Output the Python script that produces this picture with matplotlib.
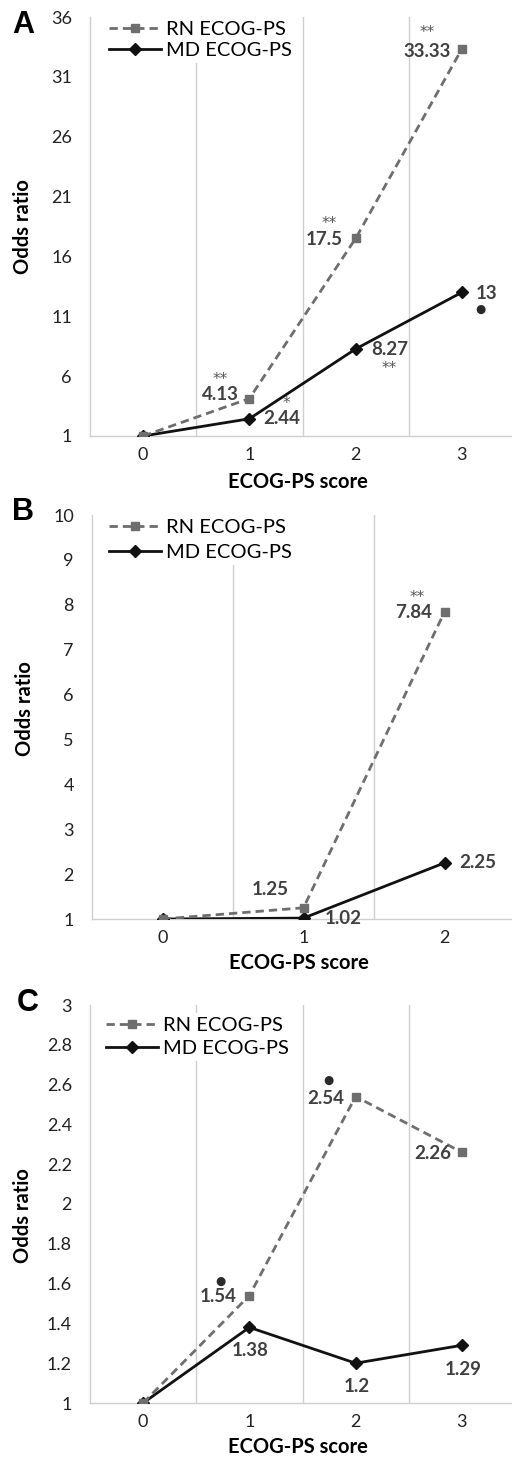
import matplotlib.pyplot as plt
import numpy as np

plt.rcParams['font.family'] = ['Lato', 'DejaVu Sans']

# data
cats_a = [0, 1, 2, 3]
rn_a = [1, 4.13, 17.5, 33.33]
md_a = [1, 2.44, 8.27, 13]
rn_sig_a = ['', '**', '**', '**']
md_sig_a = ['', '*', '**', '\u25cf']

cats_b = [0, 1, 2]
rn_b = [1, 1.25, 7.84]
md_b = [1, 1.02, 2.25]
rn_sig_b = ['', '', '**']
md_sig_b = ['', '', '']

cats_c = [0, 1, 2, 3]
rn_c = [1, 1.54, 2.54, 2.26]
md_c = [1, 1.38, 1.2, 1.29]
rn_sig_c = ['', '\u25cf', '\u25cf', '']
md_sig_c = ['', '', '', '']

yticks_a = np.arange(1, 37, 5)
yticks_b = np.arange(1, 11, 1)
yticks_c = np.arange(1, 3.01, 0.2)

GRAY = '#6e6e6e'
DARK = '#111111'
GRID = '#cfcfcf'
LBL = '#404040'

# layout (pixels): axes boxes and label offsets
fig = plt.figure(figsize=(5.12, 14.57), dpi=100)
W, H = 512, 1457

def box(left, top, right, bottom):
    return [left / W, 1 - bottom / H, (right - left) / W, (bottom - top) / H]

panels = [
    dict(letter='A', lpos=(23, 25), rect=box(90, 17, 515, 436), cats=cats_a,
         rn=rn_a, md=md_a, rn_sig=rn_sig_a, md_sig=md_sig_a, yticks=yticks_a,
         rn_off=[None, (-29, 4), (-31, -1), (-35, -3)],
         rn_soff=[None, (-29, 19), (-26, 15), (-35, 16)],
         md_off=[None, (32, 0), (34, -1), (25, -1)],
         md_soff=[None, (37, 15), (34, -20), (19, -17)],
         leg=(0.035, 1.0), lsp=0.2, ylab_y=0.5),
    dict(letter='B', lpos=(23, 512), rect=box(92, 515, 515, 919), cats=cats_b,
         rn=rn_b, md=md_b, rn_sig=rn_sig_b, md_sig=md_sig_b, yticks=yticks_b,
         rn_off=[None, (-33, 18), (-31, -1)],
         rn_soff=[None, None, (-27, 14)],
         md_off=[None, (40, 0), (33, 0)],
         md_soff=[None, None, None],
         leg=(0.03, 1.0), lsp=0.4, ylab_y=0.52),
    dict(letter='C', lpos=(28, 1003), rect=box(90, 1005, 515, 1403), cats=cats_c,
         rn=rn_c, md=md_c, rn_sig=rn_sig_c, md_sig=md_sig_c, yticks=yticks_c,
         rn_off=[None, (-31, -1), (-30, -2), (-29, -1)],
         rn_soff=[None, (-29, 14), (-27, 16), None],
         md_off=[None, (1, -23), (1, -23), (1, -24)],
         md_soff=[None, None, None, None],
         leg=(0.028, 0.98), lsp=0.3, ylab_y=0.47),
]

for p in panels:
    ax = fig.add_axes(p['rect'])
    x = np.arange(len(p['cats']))
    ax.plot(x, p['md'], color=DARK, lw=2.0, marker='D', ms=6, mec=DARK, mfc=DARK,
            label='MD ECOG-PS', zorder=3)
    ax.plot(x, p['rn'], color=GRAY, lw=2.0, ls=(0, (3.0, 1.8)), marker='s', ms=6,
            mec=GRAY, mfc=GRAY, label='RN ECOG-PS', zorder=4)

    ax.set_xlim(-0.5, len(x) - 0.5)
    ax.set_ylim(p['yticks'][0], p['yticks'][-1])
    ax.set_xticks(x)
    ax.set_xticklabels([str(c) for c in p['cats']])
    ax.set_xticks(x[:-1] + 0.5, minor=True)
    ax.set_yticks(p['yticks'])
    ax.set_yticklabels(['{:g}'.format(round(t, 1)) for t in p['yticks']])
    ax.grid(axis='x', which='minor', color=GRID, lw=1.0, zorder=0)
    ax.tick_params(which='both', length=0)
    ax.tick_params(axis='y', pad=13, labelsize=13, labelcolor='#222222')
    ax.tick_params(axis='x', pad=8, labelsize=13, labelcolor='#222222')
    for s in ['top', 'right']:
        ax.spines[s].set_visible(False)
    for s in ['left', 'bottom']:
        ax.spines[s].set_color(GRID)
        ax.spines[s].set_linewidth(1.0)

    ax.set_xlabel('ECOG-PS score', fontsize=14.5, fontweight='bold')
    ax.set_ylabel('Odds ratio', fontsize=14.5, fontweight='bold')
    ax.xaxis.set_label_coords(0.49, -0.085)
    ax.yaxis.set_label_coords(-0.135, p['ylab_y'])

    for vals, sigs, offs, soffs in [(p['rn'], p['rn_sig'], p['rn_off'], p['rn_soff']),
                                    (p['md'], p['md_sig'], p['md_off'], p['md_soff'])]:
        for i, v in enumerate(vals):
            if offs[i] is not None:
                ax.annotate('{:g}'.format(v), (x[i], v), xytext=offs[i],
                            textcoords='offset pixels', ha='center', va='center',
                            fontsize=13.5, fontweight='bold', color=LBL, zorder=5)
            if sigs[i] and soffs[i] is not None:
                if sigs[i] == '\u25cf':
                    ax.annotate(sigs[i], (x[i], v), xytext=soffs[i],
                                textcoords='offset pixels', ha='center', va='center',
                                fontsize=8.5, color='#2a2a2a', family='DejaVu Sans',
                                zorder=5)
                else:
                    ax.annotate(sigs[i], (x[i], v), xytext=soffs[i],
                                textcoords='offset pixels', ha='center', va='center',
                                fontsize=11, color='#555555', family='DejaVu Sans',
                                zorder=5)

    h, l = ax.get_legend_handles_labels()
    leg = ax.legend(h[::-1], l[::-1], loc='upper left', bbox_to_anchor=p['leg'],
                    fontsize=14.5, frameon=True, facecolor='white', edgecolor='none',
                    framealpha=1, handlelength=2.6, handletextpad=0.25,
                    labelspacing=p['lsp'], borderpad=0.2, borderaxespad=0)
    leg.set_zorder(6)

    fig.text(p['lpos'][0] / W, 1 - p['lpos'][1] / H, p['letter'], ha='center', va='center',
             fontsize=22, fontweight='bold', family=['Liberation Sans', 'DejaVu Sans'])

fig.savefig('out.png', dpi=100)
